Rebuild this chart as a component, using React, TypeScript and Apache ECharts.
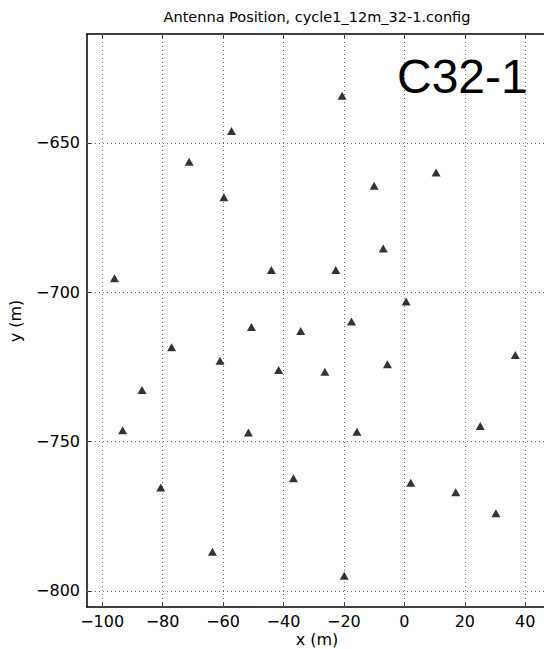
import React, { useEffect, useRef } from "react";
import * as echarts from "echarts";

const xTicks = [-100, -80, -60, -40, -20, 0, 20, 40];
const yTicks = [-800, -750, -700, -650];

const antennaX = [
  -57.2, -71.2, -59.7, -95.9, -44.0, -50.6, -34.3, -77.0, -61.0, -41.6,
  10.5, -10.0, -7.0, -22.7, 0.6, -17.5, 36.7, -5.6, -26.3, -86.8,
  -93.2, -51.6, -36.7, -80.6, -63.5, -15.7, 25.1, 2.1, 17.0, 30.3,
  -19.9, -20.6,
];
const antennaY = [
  -646.0, -656.3, -668.2, -695.3, -692.5, -711.6, -713.0, -718.4, -722.9, -726.0,
  -659.9, -664.3, -685.3, -692.5, -703.1, -709.8, -721.0, -724.1, -726.6, -732.7,
  -746.2, -747.0, -762.3, -765.4, -786.9, -746.7, -744.8, -763.8, -767.0, -774.0,
  -794.9, -634.2,
];

const titleText = "Antenna Position, cycle1_12m_32-1.config";
const configLabel = "C32-1";

export default function App() {
  const ref = useRef<HTMLDivElement>(null);
  useEffect(() => {
    if (!ref.current) return;
    const chart = echarts.init(ref.current, null, { renderer: "svg" });
    const font = "DejaVu Sans";
    const tickCommon = {
      show: true,
      inside: true,
      length: 5,
      customValues: xTicks,
      lineStyle: { color: "#333", width: 1 },
    };
    chart.setOption({
      animation: false,
      backgroundColor: "#fff",
      grid: {
        left: 87,
        top: 34,
        width: 462,
        height: 573,
        show: false,
      },
      xAxis: [
        {
          type: "value",
          min: -105,
          max: 46.2,
          position: "bottom",
          axisLine: { show: true, onZero: false, lineStyle: { color: "#000", width: 1.5 } },
          axisTick: tickCommon,
          axisLabel: {
            customValues: xTicks,
            color: "#000",
            fontFamily: font,
            fontSize: 16,
            margin: 6,
            formatter: (v: number) => String(v).replace("-", "\u2212"),
          },
          splitLine: { show: false },
        },
        {
          type: "value",
          min: -105,
          max: 46.2,
          position: "top",
          axisLine: { show: true, onZero: false, lineStyle: { color: "#000", width: 1.5 } },
          axisTick: tickCommon,
          axisLabel: { show: false },
          splitLine: { show: false },
        },
      ],
      yAxis: {
        type: "value",
        min: -805.4,
        max: -613.5,
        axisLine: { show: true, onZero: false, lineStyle: { color: "#000", width: 1.5 } },
        axisTick: { ...tickCommon, customValues: yTicks },
        axisLabel: {
          customValues: yTicks,
          color: "#000",
          fontFamily: font,
          fontSize: 16,
          margin: 7,
          formatter: (v: number) => String(v).replace("-", "\u2212"),
        },
        splitLine: { show: false },
      },
      graphic: [
        {
          type: "text",
          x: 317,
          y: 17,
          style: {
            text: titleText,
            font: `14.5px "${font}"`,
            fill: "#000",
            textAlign: "center",
            textVerticalAlign: "middle",
          },
        },
        {
          type: "text",
          x: 317,
          y: 639,
          style: {
            text: "x (m)",
            font: `16px "${font}"`,
            fill: "#000",
            textAlign: "center",
            textVerticalAlign: "middle",
          },
        },
        {
          type: "text",
          x: 15,
          y: 321,
          rotation: Math.PI / 2,
          style: {
            text: "y (m)",
            font: `16px "${font}"`,
            fill: "#000",
            textAlign: "center",
            textVerticalAlign: "middle",
          },
        },
        {
          type: "text",
          x: 397,
          y: 76,
          z: 10,
          style: {
            text: configLabel,
            font: `48px "Liberation Sans"`,
            fill: "#000",
            textAlign: "left",
            textVerticalAlign: "middle",
          },
        },
      ],
      series: [
        {
          type: "scatter",
          data: antennaX.map((x, i) => [x, antennaY[i]]),
          symbol: "triangle",
          symbolSize: [9, 8],
          itemStyle: { color: "#000" },
          z: 5,
          markLine: {
            silent: true,
            symbol: "none",
            label: { show: false },
            animation: false,
            lineStyle: { color: "#666", width: 1, type: [1, 3] },
            data: [
              ...xTicks.map((v) => ({ xAxis: v })),
              ...yTicks.map((v) => ({ yAxis: v })),
            ],
          },
        },
      ],
    });
    return () => chart.dispose();
  }, []);
  return (
    <div
      ref={ref}
      style={{ position: "fixed", left: 0, top: 0, width: 544, height: 649, background: "#fff" }}
    />
  );
}
